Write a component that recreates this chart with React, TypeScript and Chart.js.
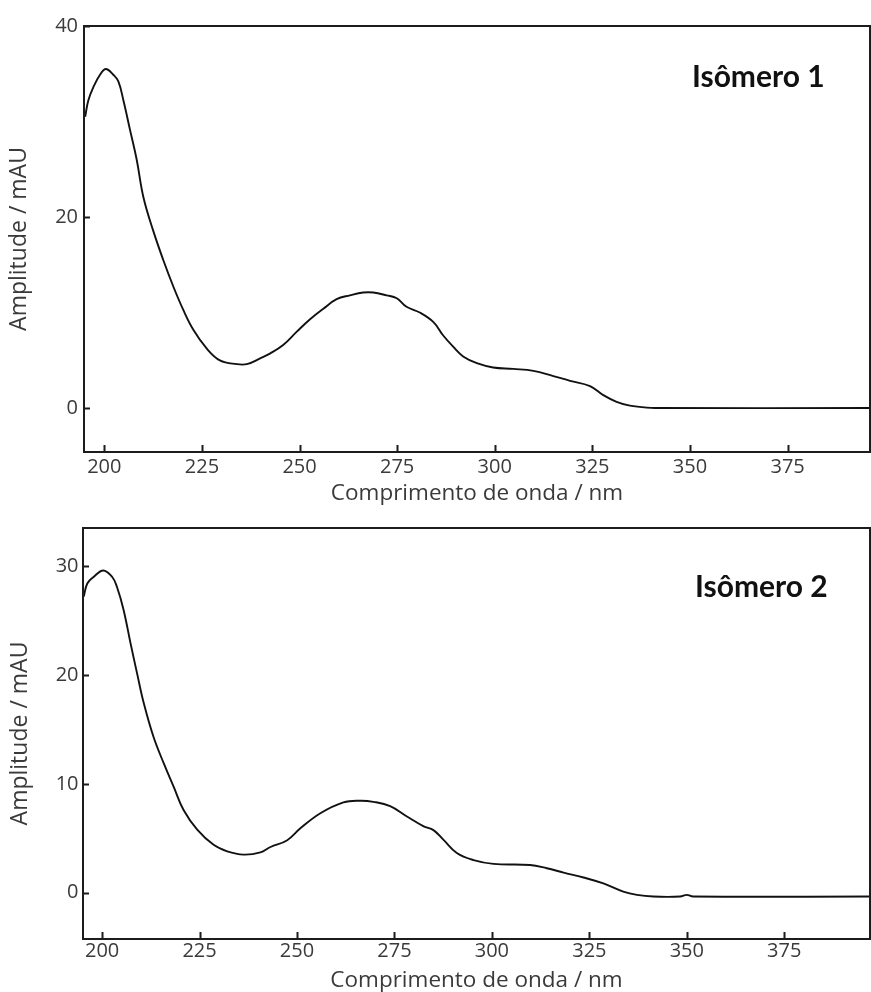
import React, { useEffect, useRef } from "react";
import { Chart, registerables } from "chart.js";

Chart.register(...registerables);

// Isômero 1 — UV spectrum (wavelength in nm, amplitude in mAU)
const wavelength1 = [
  195.1, 195.9, 197.2, 198.9, 200.4, 202.3, 203.6, 204.9, 206.6, 208.3, 210.0,
  212.5, 215.1, 217.7, 220.2, 222.8, 226.2, 229.6, 233.9, 236.5, 239.9, 242.4,
  245.8, 249.3, 252.7, 256.1, 259.5, 262.9, 266.3, 268.9, 272.3, 274.9, 277.4,
  280.8, 284.3, 286.8, 289.4, 291.9, 295.4, 299.6, 304.7, 309.9, 315.0, 319.3,
  324.4, 327.8, 331.2, 334.6, 338.9, 341.0, 396.5,
];
const amplitude1 = [
  30.5, 32.2, 33.6, 34.9, 35.5, 34.9, 34.2, 32.2, 29.1, 26.0, 22.1,
  18.6, 15.5, 12.7, 10.3, 8.2, 6.25, 5.0, 4.6, 4.6, 5.2, 5.7,
  6.6, 8.0, 9.3, 10.4, 11.4, 11.8, 12.1, 12.1, 11.8, 11.5, 10.6,
  10.0, 9.0, 7.6, 6.4, 5.4, 4.7, 4.25, 4.1, 3.9, 3.35, 2.85,
  2.3, 1.35, 0.65, 0.25, 0.05, 0.0, 0.0,
];

// Isômero 2 — UV spectrum
const wavelength2 = [
  195.3, 196.2, 197.8, 200.3, 202.6, 203.8, 205.5, 207.3, 209.0, 210.7, 213.2,
  215.8, 218.4, 220.9, 224.4, 228.6, 232.1, 236.3, 240.6, 243.2, 247.4, 250.8,
  256.0, 261.9, 266.2, 269.6, 273.9, 278.2, 282.5, 285.0, 287.6, 291.0, 295.3,
  300.4, 309.8, 314.1, 318.4, 323.5, 328.6, 333.7, 337.2, 341.4, 348.3, 350.0,
  351.6, 397.5,
];
const amplitude2 = [
  27.2, 28.4, 29.0, 29.6, 29.0, 28.1, 26.0, 22.9, 20.1, 17.4, 14.3,
  11.9, 9.7, 7.6, 5.8, 4.4, 3.8, 3.5, 3.7, 4.2, 4.8, 5.9,
  7.3, 8.3, 8.45, 8.35, 7.95, 7.0, 6.1, 5.75, 4.85, 3.65, 3.0,
  2.65, 2.55, 2.25, 1.85, 1.4, 0.85, 0.1, -0.2, -0.35, -0.35, -0.2,
  -0.35, -0.35,
];

const xTicks = [200, 225, 250, 275, 300, 325, 350, 375];
const yTicks1 = [0, 20, 40];
const yTicks2 = [0, 10, 20, 30];

const xTitle = "Comprimento de onda / nm";
const yTitle = "Amplitude / mAU";

const AXIS_COLOR = "#1c1c1c";
const TEXT_COLOR = "#3a3a3a";
const FONT = "'Open Sans', 'Noto Sans', sans-serif";

// Draws the box frame, inward tick marks and the isomer label.
const framePlugin = {
  id: "frame",
  afterDatasetsDraw(chart: any, _args: any, opts: any) {
    const { ctx, chartArea } = chart;
    const { left, top, right, bottom } = chartArea;
    const xs = chart.scales.x;
    const ys = chart.scales.y;
    ctx.save();
    ctx.strokeStyle = AXIS_COLOR;
    ctx.lineWidth = 2;
    ctx.strokeRect(left, top, right - left, bottom - top);
    ctx.beginPath();
    xs.ticks.forEach((t: any) => {
      const px = Math.round(xs.getPixelForValue(t.value)) + 0.5;
      ctx.moveTo(px, bottom);
      ctx.lineTo(px, bottom - 7);
    });
    ys.ticks.forEach((t: any) => {
      const py = Math.round(ys.getPixelForValue(t.value)) + 0.5;
      ctx.moveTo(left, py);
      ctx.lineTo(left + 6, py);
    });
    ctx.stroke();
    if (opts && opts.text) {
      ctx.font = "bold 30px Lato, 'Open Sans', sans-serif";
      ctx.fillStyle = "#111";
      ctx.textAlign = "left";
      ctx.textBaseline = "alphabetic";
      ctx.fillText(opts.text, xs.getPixelForValue(opts.x), ys.getPixelForValue(opts.y));
    }
    ctx.restore();
  },
};

type PanelProps = {
  width: number;
  height: number;
  wavelengths: number[];
  amplitudes: number[];
  yTicks: number[];
  xMin: number;
  xMax: number;
  yMin: number;
  yMax: number;
  padTop: number;
  yAxisWidth: number;
  xAxisHeight: number;
  xTickPad: number;
  yTickPad: number;
  yTitlePad: number;
  label: string;
  labelX: number;
  labelY: number;
};

function SpectrumPanel(p: PanelProps) {
  const ref = useRef<HTMLCanvasElement | null>(null);

  useEffect(() => {
    if (!ref.current) return;
    const points = p.wavelengths.map((x, i) => ({ x, y: p.amplitudes[i] }));
    const chart = new Chart(ref.current, {
      type: "line",
      data: {
        datasets: [
          {
            data: points,
            borderColor: "#111",
            borderWidth: 1.9,
            pointRadius: 0,
            fill: false,
            tension: 0.4,
          },
        ],
      },
      options: {
        responsive: false,
        animation: false,
        layout: { padding: { top: p.padTop, right: 1, left: 0, bottom: 0 } },
        plugins: {
          legend: { display: false },
          tooltip: { enabled: false },
          frame: { text: p.label, x: p.labelX, y: p.labelY },
        } as any,
        scales: {
          x: {
            type: "linear",
            min: p.xMin,
            max: p.xMax,
            afterBuildTicks: (s: any) => {
              s.ticks = xTicks.map((v) => ({ value: v }));
            },
            afterFit: (s: any) => {
              s.height = p.xAxisHeight;
            },
            grid: { display: false, drawTicks: false },
            border: { display: false },
            ticks: {
              padding: p.xTickPad,
              color: TEXT_COLOR,
              font: { family: FONT, size: 20 },
              maxRotation: 0,
              autoSkip: false,
              callback: (v: any) => String(v),
            },
            title: {
              display: true,
              text: xTitle,
              color: TEXT_COLOR,
              font: { family: FONT, size: 22.5, lineHeight: 1 },
              padding: { top: 0, bottom: 0 },
            },
          },
          y: {
            type: "linear",
            min: p.yMin,
            max: p.yMax,
            afterBuildTicks: (s: any) => {
              s.ticks = p.yTicks.map((v) => ({ value: v }));
            },
            afterFit: (s: any) => {
              s.width = p.yAxisWidth;
            },
            grid: { display: false, drawTicks: false },
            border: { display: false },
            ticks: {
              padding: p.yTickPad,
              color: TEXT_COLOR,
              font: { family: FONT, size: 20 },
              autoSkip: false,
              callback: (v: any) => String(v),
            },
            title: {
              display: true,
              text: yTitle,
              color: TEXT_COLOR,
              font: { family: FONT, size: 23, lineHeight: 1 },
              padding: { top: p.yTitlePad, bottom: 0 },
            },
          },
        },
      },
      plugins: [framePlugin],
    });
    return () => chart.destroy();
  }, []);

  return (
    <canvas
      ref={ref}
      width={p.width}
      height={p.height}
      style={{ display: "block", width: p.width, height: p.height }}
    />
  );
}

export default function App() {
  return (
    <div style={{ position: "absolute", left: 0, top: 0, width: 871, height: 992, background: "#fff" }}>
      <SpectrumPanel
        width={871}
        height={505}
        wavelengths={wavelength1}
        amplitudes={amplitude1}
        yTicks={yTicks1}
        xMin={194.8}
        xMax={396.1}
        yMin={-4.6}
        yMax={40}
        padTop={26}
        yAxisWidth={84}
        xAxisHeight={53}
        xTickPad={3.5}
        yTickPad={6}
        yTitlePad={7.5}
        label="Isômero 1"
        labelX={350.5}
        labelY={33.6}
      />
      <SpectrumPanel
        width={871}
        height={487}
        wavelengths={wavelength2}
        amplitudes={amplitude2}
        yTicks={yTicks2}
        xMin={195.1}
        xMax={397.0}
        yMin={-4.25}
        yMax={33.5}
        padTop={23}
        yAxisWidth={83}
        xAxisHeight={53}
        xTickPad={0}
        yTickPad={4.5}
        yTitlePad={8.5}
        label="Isômero 2"
        labelX={352.1}
        labelY={27.2}
      />
    </div>
  );
}
